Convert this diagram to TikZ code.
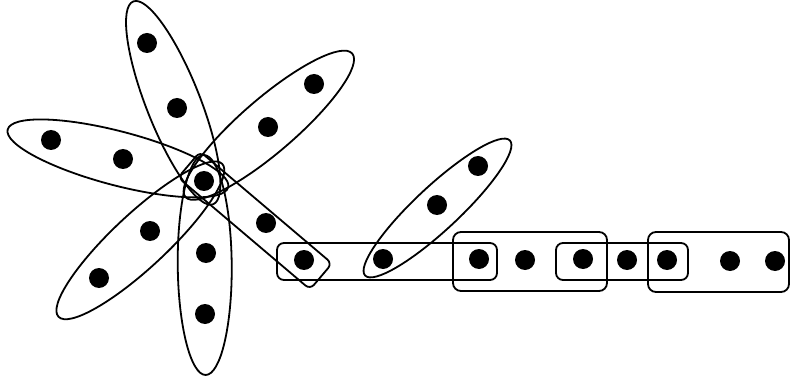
\documentclass[tikz,border=0pt]{standalone}
\usetikzlibrary{calc}
\begin{document}
\begin{tikzpicture}[x=1pt,y=1pt,
  vtx/.style={circle,fill=black,inner sep=0pt,minimum size=20pt},
  hedge/.style={draw=black,line width=1.8pt},
  box/.style={hedge,rounded corners=7pt}]
\useasboundingbox (0,0) rectangle (791,383);
\coordinate (C0) at (204,202);
% petals of the sunflower
\foreach \ang/\d/\a [count=\i] in {111.5/84/109, 40.7/85.5/110, 165.3/89/114, 223/87/112, 270.5/84/110}{
  \coordinate (pc\i) at ($(C0)+(\ang:\d)$);
  \draw[hedge, rotate around={\ang:(pc\i)}] (pc\i) ellipse [x radius=\a, y radius=27];
}
% rotated rectangle
\node[hedge, rounded corners=6pt, minimum width=173pt, minimum height=34pt, inner sep=0pt, rotate=-40.3]
  (E) at ($(C0)+(1.9,2.2)+(-40.3:64.5)$) {};
% diagonal ellipse
\coordinate (gc) at (437.5,175);
\draw[hedge, rotate around={43:(gc)}] (gc) ellipse [x radius=99, y radius=22];
% rectangles along the row
\draw[box] (277,103) rectangle (497,140);
\draw[box,rounded corners=8pt] (453,92) rectangle (607,151);
\draw[box] (556,103) rectangle (688,140);
\draw[box,rounded corners=8pt] (648,91) rectangle (789,151);
% vertices
\node[vtx] (c) at (C0) {};
\node[vtx] (u1) at (177,275) {};
\node[vtx] (u2) at (147,340) {};
\node[vtx] (l1) at (123,224) {};
\node[vtx] (l2) at (51,243) {};
\node[vtx] (ur1) at (268,256) {};
\node[vtx] (ur2) at (314,299) {};
\node[vtx] (ll1) at (150,152) {};
\node[vtx] (ll2) at (99,105) {};
\node[vtx] (d1) at (206,130) {};
\node[vtx] (d2) at (205,69) {};
\node[vtx] (r1) at (266,160) {};
\node[vtx] (r2) at (304,123) {};
\node[vtx] (g1) at (383,124) {};
\node[vtx] (g2) at (437,178) {};
\node[vtx] (g3) at (478,217) {};
\node[vtx] (p1) at (479,124) {};
\node[vtx] (p2) at (525,123) {};
\node[vtx] (p3) at (583,124) {};
\node[vtx] (p4) at (627,123) {};
\node[vtx] (p5) at (667,123) {};
\node[vtx] (p6) at (730,122) {};
\node[vtx] (p7) at (775,122) {};
\end{tikzpicture}
\end{document}
